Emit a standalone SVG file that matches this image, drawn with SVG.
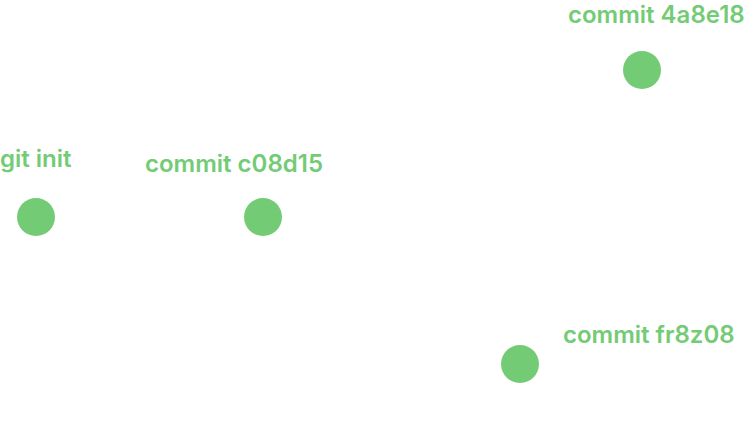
<svg xmlns="http://www.w3.org/2000/svg" width="747" height="442" viewBox="0 0 747 442">
<style>
.node circle{fill:#73cc75}
.node text{fill:#73cc75;font-family:Inter,"Liberation Sans",sans-serif;font-weight:600;font-size:24px}
</style>
<rect width="747" height="442" fill="#ffffff"/>
<g id="connectors"></g>
<g id="node-init" class="node">
<circle cx="36" cy="217" r="19"/>
<text x="0" y="167">git init</text>
</g>
<g id="node-c08d15" class="node">
<circle cx="263" cy="217" r="19"/>
<text x="145" y="172">commit c08d15</text>
</g>
<g id="node-4a8e18" class="node">
<circle cx="642" cy="70" r="19"/>
<text x="568" y="23">commit 4a8e18</text>
</g>
<g id="node-fr8z08" class="node">
<circle cx="520" cy="364" r="19"/>
<text x="563" y="343">commit fr8z08</text>
</g>
</svg>
